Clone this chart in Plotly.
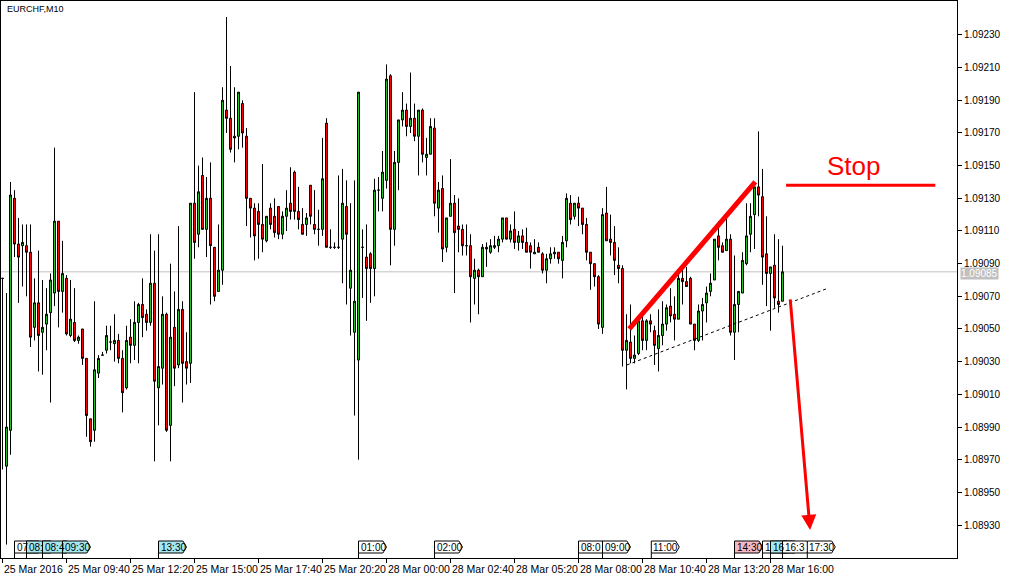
import plotly.graph_objects as go

# ---------------- data (EURCHF M10, bar index 0 = 25 Mar 07:00) ----------------
opens = [1.09081,1.08966,1.08988,1.09130,1.09102,1.09101,1.09101,1.09097,1.09051,1.09066,
 1.09048,1.09053,1.09060,1.09072,1.09116,1.09073,1.09081,1.09046,1.09054,1.09043,
 1.09050,1.09032,1.08995,1.08988,1.09023,1.09034,1.09037,1.09042,1.09041,1.09043,
 1.09032,1.09014,1.09045,1.09040,1.09054,1.09065,1.09059,1.09054,1.09078,1.09014,
 1.09026,1.09059,1.08991,1.09051,1.09028,1.09062,1.09030,1.09029,1.09127,1.09108,
 1.09144,1.09111,1.09130,1.09100,1.09073,1.09086,1.09184,1.09179,1.09168,1.09168,
 1.09188,1.09168,1.09130,1.09124,1.09122,1.09114,1.09104,1.09124,1.09119,1.09125,
 1.09108,1.09119,1.09127,1.09146,1.09122,1.09114,1.09114,1.09138,1.09114,1.09111,
 1.09111,1.09176,1.09100,1.09100,1.09100,1.09105,1.09125,1.09075,1.09048,1.09031,
 1.09100,1.09094,1.09096,1.09087,1.09135,1.09130,1.09141,1.09205,1.09111,1.09152,
 1.09178,1.09184,1.09174,1.09179,1.09168,1.09184,1.09155,1.09157,1.09173,1.09124,
 1.09136,1.09100,1.09119,1.09127,1.09113,1.09111,1.09101,1.09101,1.09081,1.09086,
 1.09082,1.09100,1.09097,1.09100,1.09101,1.09105,1.09118,1.09105,1.09111,1.09103,
 1.09107,1.09103,1.09101,1.09096,1.09100,1.09096,1.09086,1.09093,1.09096,1.09097,
 1.09092,1.09104,1.09127,1.09119,1.09127,1.09124,1.09114,1.09097,1.09090,1.09082,
 1.09051,1.09121,1.09105,1.09103,1.09089,1.09087,1.09037,1.09042,1.09032,1.09035,
 1.09055,1.09043,1.09055,1.09049,1.09038,1.09046,1.09053,1.09064,1.09059,1.09056,
 1.09081,1.09079,1.09081,1.09053,1.09043,1.09061,1.09066,1.09073,1.09080,1.09107,
 1.09101,1.09098,1.09105,1.09048,1.09065,1.09072,1.09090,1.09108,1.09120,1.09137,
 1.09131,1.09096,1.09084,1.09089,1.09067,1.09067]
highs = [1.09081,1.09072,1.09140,1.09135,1.09118,1.09114,1.09114,1.09114,1.09081,1.09098,
 1.09080,1.09075,1.09084,1.09161,1.09116,1.09104,1.09083,1.09080,1.09075,1.09046,
 1.09050,1.09032,1.08995,1.09067,1.09034,1.09036,1.09052,1.09052,1.09059,1.09047,
 1.09037,1.09052,1.09056,1.09067,1.09066,1.09081,1.09062,1.09108,1.09098,1.09108,
 1.09070,1.09060,1.09090,1.09073,1.09113,1.09067,1.09048,1.09127,1.09195,1.09150,
 1.09155,1.09143,1.09152,1.09100,1.09114,1.09198,1.09241,1.09211,1.09198,1.09195,
 1.09190,1.09173,1.09130,1.09127,1.09127,1.09151,1.09119,1.09127,1.09130,1.09125,
 1.09122,1.09135,1.09149,1.09147,1.09137,1.09124,1.09121,1.09138,1.09135,1.09123,
 1.09167,1.09179,1.09111,1.09103,1.09144,1.09148,1.09141,1.09127,1.09141,1.09195,
 1.09111,1.09114,1.09097,1.09142,1.09143,1.09159,1.09212,1.09206,1.09159,1.09178,
 1.09195,1.09188,1.09207,1.09188,1.09184,1.09185,1.09167,1.09179,1.09179,1.09140,
 1.09144,1.09118,1.09154,1.09132,1.09130,1.09114,1.09114,1.09108,1.09093,1.09087,
 1.09102,1.09103,1.09105,1.09107,1.09107,1.09118,1.09118,1.09114,1.09122,1.09110,
 1.09111,1.09112,1.09103,1.09105,1.09103,1.09097,1.09096,1.09100,1.09100,1.09097,
 1.09107,1.09133,1.09132,1.09127,1.09131,1.09124,1.09118,1.09097,1.09090,1.09083,
 1.09124,1.09137,1.09120,1.09113,1.09100,1.09089,1.09059,1.09065,1.09046,1.09058,
 1.09058,1.09056,1.09059,1.09052,1.09062,1.09067,1.09065,1.09075,1.09070,1.09085,
 1.09087,1.09088,1.09082,1.09053,1.09065,1.09069,1.09076,1.09084,1.09105,1.09116,
 1.09103,1.09119,1.09108,1.09095,1.09073,1.09097,1.09127,1.09127,1.09137,1.09171,
 1.09148,1.09119,1.09088,1.09108,1.09105,1.09101]
lows = [1.08964,1.08918,1.08973,1.09094,1.09066,1.09076,1.09070,1.09039,1.09043,1.09024,
 1.09022,1.09037,1.09005,1.09064,1.09051,1.09060,1.09046,1.09045,1.09042,1.09041,
 1.09028,1.08984,1.08978,1.08981,1.09020,1.09034,1.09035,1.09037,1.09030,1.09029,
 1.08999,1.09013,1.09029,1.09031,1.09029,1.09045,1.09049,1.09052,1.08969,1.08991,
 1.09016,1.08987,1.08969,1.09015,1.09026,1.09005,1.09016,1.09017,1.09093,1.09100,
 1.09111,1.09094,1.09065,1.09067,1.09073,1.09077,1.09170,1.09158,1.09152,1.09160,
 1.09161,1.09113,1.09106,1.09092,1.09093,1.09097,1.09103,1.09111,1.09106,1.09105,
 1.09105,1.09110,1.09117,1.09117,1.09111,1.09108,1.09107,1.09114,1.09108,1.09101,
 1.09107,1.09100,1.09099,1.09099,1.09099,1.09078,1.09065,1.09046,1.08997,1.08970,
 1.09069,1.09055,1.09066,1.09070,1.09122,1.09122,1.09136,1.09089,1.09101,1.09135,
 1.09174,1.09168,1.09170,1.09165,1.09144,1.09152,1.09144,1.09157,1.09119,1.09109,
 1.09091,1.09097,1.09119,1.09072,1.09097,1.09095,1.09095,1.09054,1.09065,1.09059,
 1.09082,1.09088,1.09096,1.09099,1.09097,1.09103,1.09105,1.09103,1.09099,1.09098,
 1.09099,1.09097,1.09087,1.09096,1.09097,1.09084,1.09078,1.09090,1.09093,1.09090,
 1.09081,1.09100,1.09114,1.09117,1.09113,1.09108,1.09092,1.09074,1.09076,1.09050,
 1.09047,1.09104,1.09095,1.09083,1.09078,1.09027,1.09013,1.09029,1.09029,1.09034,
 1.09037,1.09037,1.09048,1.09028,1.09024,1.09040,1.09049,1.09054,1.09043,1.09056,
 1.09065,1.09076,1.09053,1.09037,1.09042,1.09043,1.09054,1.09070,1.09080,1.09092,
 1.09097,1.09098,1.09046,1.09031,1.09048,1.09072,1.09089,1.09097,1.09099,1.09119,
 1.09077,1.09064,1.09049,1.09063,1.09060,1.09067]
closes = [1.09081,1.08990,1.09132,1.09102,1.09094,1.09103,1.09097,1.09045,1.09066,1.09046,
 1.09051,1.09059,1.09080,1.09116,1.09073,1.09084,1.09047,1.09056,1.09043,1.09045,
 1.09032,1.08997,1.08981,1.09025,1.09032,1.09034,1.09046,1.09042,1.09043,1.09032,
 1.09011,1.09043,1.09040,1.09054,1.09065,1.09057,1.09054,1.09078,1.09018,1.09027,
 1.09059,1.08988,1.09045,1.09026,1.09062,1.09029,1.09026,1.09127,1.09103,1.09134,
 1.09111,1.09130,1.09101,1.09070,1.09086,1.09190,1.09179,1.09160,1.09167,1.09195,
 1.09170,1.09130,1.09124,1.09107,1.09114,1.09105,1.09119,1.09114,1.09109,1.09108,
 1.09119,1.09124,1.09122,1.09122,1.09117,1.09108,1.09118,1.09119,1.09111,1.09111,
 1.09142,1.09100,1.09100,1.09100,1.09100,1.09127,1.09108,1.09086,1.09067,1.09195,
 1.09100,1.09087,1.09087,1.09135,1.09135,1.09146,1.09203,1.09111,1.09152,1.09178,
 1.09184,1.09174,1.09179,1.09168,1.09184,1.09157,1.09157,1.09174,1.09127,1.09135,
 1.09099,1.09118,1.09127,1.09109,1.09111,1.09101,1.09101,1.09082,1.09086,1.09082,
 1.09100,1.09099,1.09101,1.09101,1.09105,1.09118,1.09105,1.09110,1.09103,1.09107,
 1.09103,1.09097,1.09097,1.09097,1.09097,1.09086,1.09093,1.09096,1.09097,1.09093,
 1.09103,1.09130,1.09117,1.09127,1.09124,1.09114,1.09097,1.09090,1.09082,1.09053,
 1.09120,1.09104,1.09103,1.09092,1.09087,1.09037,1.09043,1.09032,1.09034,1.09055,
 1.09043,1.09055,1.09053,1.09040,1.09046,1.09053,1.09063,1.09058,1.09056,1.09081,
 1.09079,1.09076,1.09053,1.09043,1.09061,1.09065,1.09072,1.09078,1.09105,1.09100,
 1.09097,1.09105,1.09048,1.09065,1.09073,1.09092,1.09107,1.09119,1.09137,1.09132,
 1.09094,1.09084,1.09088,1.09069,1.09065,1.09085]
bars = list(range(len(closes)))

time_tick_bars = [0, 16, 32, 48, 64, 80, 96, 112, 128, 144, 160, 176, 192]
time_tick_labels = ["25 Mar 2016", "25 Mar 09:40", "25 Mar 12:20", "25 Mar 15:00", "25 Mar 17:40",
                    "25 Mar 20:20", "28 Mar 00:00", "28 Mar 02:40", "28 Mar 05:20", "28 Mar 08:00",
                    "28 Mar 10:40", "28 Mar 13:20", "28 Mar 16:00"]
price_ticks = [1.08930, 1.08950, 1.08970, 1.08990, 1.09010, 1.09030, 1.09050, 1.09070,
               1.09090, 1.09110, 1.09130, 1.09150, 1.09170, 1.09190, 1.09210, 1.09230]
price_tick_labels = ["1.08930", "1.08950", "1.08970", "1.08990", "1.09010", "1.09030",
                     "1.09050", "1.09070", "1.09090", "1.09110", "1.09130", "1.09150",
                     "1.09170", "1.09190", "1.09210", "1.09230"]
last_price = 1.09085

# event markers on the time scale: (bar position, visible text, colour)
event_bars = [3, 6, 10, 15, 39, 89, 108, 144, 150, 162.2, 183, 190, 192, 195, 201.2]
event_texts = ["07", "08:", "08:4", "09:30", "13:30", "01:00", "02:00", "08:0", "09:00",
               "11:00", "14:30", "1", "16", "16:3", "17:30"]
event_colors = ["white", "#a6e8f2", "#a6e8f2", "#a6e8f2", "#a6e8f2", "white", "white", "white",
                "white", "white", "#f7b8c2", "white", "#a6e8f2", "white", "white"]

# drawn objects (bar position, price)
wedge_line = [(156.7, 1.09050), (188.2, 1.09140)]
support_line = [(156.1, 1.09028), (206.4, 1.09075)]
stop_line = [(195.9, 1.09138), (233.2, 1.09138)]
stop_label = (212.9, 1.09150)
arrow_tail = (196.9, 1.09069)
arrow_tip = (201.9, 1.08927)

FONT = "Liberation Sans"
RED = "#ff0000"

fig = go.Figure()
fig.add_trace(go.Candlestick(
    x=bars, open=opens, high=highs, low=lows, close=closes,
    increasing=dict(fillcolor="#22c322", line=dict(color="black", width=1)),
    decreasing=dict(fillcolor="#ff0000", line=dict(color="black", width=1)),
    whiskerwidth=0, hoverinfo="skip", showlegend=False,
))

shapes = []
shapes.append(dict(type="line", xref="paper", yref="y", x0=0, x1=1, y0=last_price, y1=last_price,
                   line=dict(color="#c0c0c0", width=1), layer="below"))
shapes.append(dict(type="line", xref="x", yref="y", x0=wedge_line[0][0], y0=wedge_line[0][1],
                   x1=wedge_line[1][0], y1=wedge_line[1][1], line=dict(color=RED, width=5)))
shapes.append(dict(type="line", xref="x", yref="y", x0=support_line[0][0], y0=support_line[0][1],
                   x1=support_line[1][0], y1=support_line[1][1],
                   line=dict(color="black", width=1, dash="3px,3px")))
shapes.append(dict(type="line", xref="x", yref="y", x0=stop_line[0][0], y0=stop_line[0][1],
                   x1=stop_line[1][0], y1=stop_line[1][1], line=dict(color=RED, width=3)))

PH = 557.0
def py(pix):
    return pix / PH
top, mid, bot = py(17), py(11), py(5)
for b, col in zip(event_bars, event_colors):
    xl, xr, d = b, b + 7.0, 0.9
    path = f"M{xl},{bot} L{xl},{top} L{xr - d},{top} L{xr},{mid} L{xr - d},{bot} Z"
    shapes.append(dict(type="path", xref="x", yref="paper", path=path, fillcolor=col,
                       line=dict(color="black", width=1)))
    shapes.append(dict(type="line", xref="x", yref="paper", x0=xl, x1=xl, y0=0, y1=bot,
                       line=dict(color="black", width=1)))

annotations = []
for b, t in zip(event_bars, event_texts):
    annotations.append(dict(x=b, y=mid, xref="x", yref="paper", text=t, showarrow=False,
                            xanchor="left", yanchor="middle", xshift=0,
                            font=dict(family=FONT, size=10, color="black")))
for b, t in zip(time_tick_bars, time_tick_labels):
    annotations.append(dict(x=b, y=0, xref="x", yref="paper", text=t, showarrow=False,
                            xanchor="left", yanchor="top", xshift=-1, yshift=-3,
                            font=dict(family=FONT, size=10.5, color="black")))
annotations.append(dict(x=0, y=1, xref="paper", yref="paper", text="EURCHF,M10", showarrow=False,
                        xanchor="left", yanchor="top", xshift=4, yshift=-1,
                        font=dict(family=FONT, size=9, color="black")))
annotations.append(dict(x=1, y=last_price, xref="paper", yref="y", text="1.09085",
                        showarrow=False, xanchor="left", yanchor="middle", xshift=3, yshift=-2,
                        bgcolor="#c0c0c0", borderpad=0,
                        font=dict(family=FONT, size=10, color="white")))
annotations.append(dict(x=stop_label[0], y=stop_label[1], xref="x", yref="y", text="Stop",
                        showarrow=False, xanchor="center", yanchor="middle",
                        font=dict(family=FONT, size=26, color=RED)))
annotations.append(dict(x=arrow_tip[0], y=arrow_tip[1], ax=arrow_tail[0], ay=arrow_tail[1],
                        xref="x", yref="y", axref="x", ayref="y", text="", showarrow=True,
                        arrowhead=2, arrowsize=1, arrowwidth=3, arrowcolor=RED))

x_lo = -0.375
x_hi = x_lo + 956 / 4.0
fig.update_layout(
    width=1010, height=578,
    margin=dict(l=1, r=53, t=1, b=20),
    paper_bgcolor="white", plot_bgcolor="white",
    boxgap=0.5, boxgroupgap=0,
    showlegend=False,
    shapes=shapes, annotations=annotations,
    xaxis=dict(range=[x_lo, x_hi], rangeslider=dict(visible=False), showgrid=False,
               zeroline=False, showline=True, linecolor="black", linewidth=1, mirror=True,
               tickmode="array", tickvals=time_tick_bars, ticks="outside", ticklen=4,
               tickcolor="black", showticklabels=False),
    yaxis=dict(range=[1.089098, 1.092508], side="right", showgrid=False, zeroline=False,
               showline=True, linecolor="black", linewidth=1, mirror=True,
               tickmode="array", tickvals=price_ticks, ticktext=price_tick_labels,
               ticks="outside", ticklen=4,
               tickcolor="black", tickfont=dict(family=FONT, size=10, color="black")),
)
fig.write_html("out.html", config={"displayModeBar": False},
               post_script="document.body.style.margin='0px';document.body.style.padding='0px';"
                           "document.body.style.overflow='hidden';")
